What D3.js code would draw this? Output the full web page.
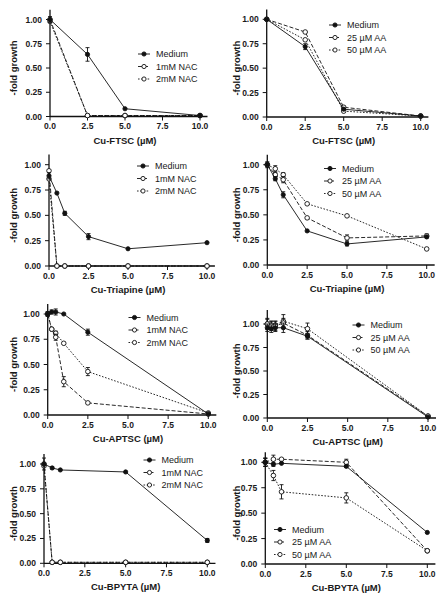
<!DOCTYPE html>
<html><head><meta charset="utf-8">
<script src="https://cdn.jsdelivr.net/npm/d3@7"></script>
<style>
body{margin:0;background:#fff}
svg{display:block}
text{font-family:"Liberation Sans",Arial,Helvetica,sans-serif;fill:#1a1a1a}
</style>
</head><body>
<svg id="c" width="447" height="601"></svg>
<script>
// ---------------- DATA ----------------
const xTicks = [0, 2.5, 5, 7.5, 10];
const yTicks = [0, 0.25, 0.5, 0.75, 1.0];
const nacLabels = ["Medium", "1mM NAC", "2mM NAC"];
const aaLabels = ["Medium", "25 µM AA", "50 µM AA"];

// Cu-FTSC
const xFtsc = [0, 2.5, 5, 10];
const ftscNacMedium = [1.0, 0.64, 0.08, 0.01];
const ftscNacMediumErr = [0.03, 0.07, 0, 0];
const ftscNac1 = [1.0, 0.01, 0.01, 0.01];
const ftscNac2 = [0.98, 0.01, 0.01, 0.01];
const ftscAaMedium = [1.0, 0.72, 0.08, 0.01];
const ftscAaMediumErr = [0, 0.03, 0, 0];
const ftscAa25 = [1.0, 0.87, 0.10, 0.01];
const ftscAa50 = [1.0, 0.79, 0.06, 0.01];

// Cu-Triapine
const xTria = [0, 0.5, 1, 2.5, 5, 10];
const triaNacMedium = [0.89, 0.72, 0.52, 0.29, 0.17, 0.23];
const triaNacMediumErr = [0.03, 0, 0.02, 0.03, 0, 0];
const triaNac1 = [0.94, 0, 0, 0, 0, 0];
const triaNac2 = [0.86, 0, 0, 0, 0, 0];
const triaAaMedium = [1.0, 0.86, 0.70, 0.34, 0.21, 0.28];
const triaAaMediumErr = [0, 0.02, 0.03, 0, 0.02, 0];
const triaAa25 = [1.0, 0.90, 0.85, 0.47, 0.27, 0.29];
const triaAa25Err = [0.02, 0.02, 0.03, 0, 0.03, 0.02];
const triaAa50 = [1.0, 0.96, 0.90, 0.61, 0.49, 0.16];
const triaAa50Err = [0.03, 0.03, 0.02, 0, 0, 0];

// Cu-APTSC
const xAptsc = [0, 0.25, 0.5, 1, 2.5, 10];
const apNacMedium = [1.0, 1.02, 1.02, 1.0, 0.82, 0.01];
const apNacMediumErr = [0.02, 0.02, 0.03, 0, 0.03, 0];
const apNac1 = [1.0, 0.85, 0.77, 0.33, 0.12, 0.01];
const apNac1Err = [0.02, 0, 0.03, 0.05, 0, 0];
const apNac2 = [1.0, 0.85, 0.81, 0.71, 0.43, 0.02];
const apNac2Err = [0.02, 0, 0.02, 0, 0.04, 0];
const apAaMedium = [0.96, 0.95, 0.96, 0.96, 0.87, 0.01];
const apAaMediumErr = [0.04, 0.04, 0.04, 0.05, 0.03, 0];
const apAa25 = [1.0, 0.98, 0.98, 1.01, 0.88, 0.02];
const apAa25Err = [0.06, 0.05, 0.05, 0.05, 0.04, 0];
const apAa50 = [1.0, 0.99, 0.99, 1.03, 0.95, 0.02];
const apAa50Err = [0.05, 0.04, 0.04, 0.07, 0.06, 0];

// Cu-BPYTA
const xBpyta = [0, 0.5, 1, 5, 10];
const bpNacMedium = [1.0, 0.96, 0.94, 0.92, 0.23];
const bpNacMediumErr = [0.06, 0.01, 0, 0, 0.02];
const bpNac1 = [1.0, 0.01, 0.01, 0.01, 0.01];
const bpNac2 = [0.98, 0.01, 0.01, 0.01, 0.01];
const bpAaMedium = [1.0, 0.98, 0.99, 0.96, 0.31];
const bpAaMediumErr = [0.04, 0.02, 0, 0.01, 0];
const bpAa25 = [1.0, 1.03, 1.03, 1.0, 0.13];
const bpAa25Err = [0.04, 0.04, 0, 0.03, 0];
const bpAa50 = [1.0, 0.87, 0.71, 0.65, 0.13];
const bpAa50Err = [0.04, 0.05, 0.07, 0.05, 0];

// ---------------- DRAWING ----------------
const svg = d3.select("#c");
const styles = [
  {dash: null, filled: true},
  {dash: "4,2", filled: false},
  {dash: "1.6,1.6", filled: false}
];

function mk(x, ys, errs) {
  return x.map((v, i) => ({x: v, y: ys[i], e: errs ? errs[i] : 0}));
}

function drawPanel(p) {
  const g = svg.append("g");
  const x = d3.scaleLinear().domain([0, 10]).range([p.x0, p.x10]);
  const y = d3.scaleLinear().domain([0, 1]).range([p.y0, p.y1]);
  const xEnd = x(10.5), yTop = y(p.yTop || 1.1);

  // axes lines
  g.append("line").attr("x1", p.x0).attr("x2", xEnd).attr("y1", p.y0).attr("y2", p.y0)
    .attr("stroke", "#111").attr("stroke-width", 1.3);
  g.append("line").attr("x1", p.x0).attr("x2", p.x0).attr("y1", p.y0).attr("y2", yTop)
    .attr("stroke", "#111").attr("stroke-width", 1.3);

  // ticks
  xTicks.forEach(t => {
    g.append("line").attr("x1", x(t)).attr("x2", x(t)).attr("y1", p.y0).attr("y2", p.y0 + 4)
      .attr("stroke", "#111").attr("stroke-width", 1);
    g.append("text").attr("x", x(t)).attr("y", p.y0 + 12.5).attr("text-anchor", "middle")
      .attr("font-size", 8.5).attr("font-weight", "bold").text(t.toFixed(1));
  });
  yTicks.forEach(t => {
    g.append("line").attr("x1", p.x0 - 4).attr("x2", p.x0).attr("y1", y(t)).attr("y2", y(t))
      .attr("stroke", "#111").attr("stroke-width", 1);
    g.append("text").attr("x", p.x0 - 8).attr("y", y(t) + 3).attr("text-anchor", "end")
      .attr("font-size", 8.5).attr("font-weight", "bold").text(t.toFixed(2));
  });

  // titles
  g.append("text").attr("x", (x(0) + x(10)) / 2).attr("y", p.y0 + 27).attr("text-anchor", "middle")
    .attr("font-size", 9.5).attr("font-weight", "bold").text(p.xTitle);
  g.append("text").attr("transform", `translate(${p.yTitleX},${(y(0) + y(1)) / 2}) rotate(-90)`)
    .attr("text-anchor", "middle").attr("font-size", 9.5).attr("font-weight", "bold").text("-fold growth");

  const line = d3.line().x(d => x(d.x)).y(d => y(d.y));

  // series (draw in reverse so Medium on top)
  p.series.slice().reverse().forEach((s, ri) => {
    const st = styles[p.series.length - 1 - ri];
    g.append("path").datum(s).attr("d", line).attr("fill", "none")
      .attr("stroke", "#111").attr("stroke-width", 0.9)
      .attr("stroke-dasharray", st.dash);
    s.filter(d => d.e > 0).forEach(d => {
      g.append("line").attr("x1", x(d.x)).attr("x2", x(d.x)).attr("y1", y(d.y - d.e)).attr("y2", y(d.y + d.e))
        .attr("stroke", "#111").attr("stroke-width", 0.9);
      [d.y - d.e, d.y + d.e].forEach(v => g.append("line").attr("x1", x(d.x) - 2).attr("x2", x(d.x) + 2)
        .attr("y1", y(v)).attr("y2", y(v)).attr("stroke", "#111").attr("stroke-width", 0.9));
    });
    g.selectAll(null).data(s).enter().append("circle")
      .attr("cx", d => x(d.x)).attr("cy", d => y(d.y))
      .attr("r", st.filled ? 2.1 : 2.3)
      .attr("fill", st.filled ? "#111" : "#fff").attr("stroke", "#111").attr("stroke-width", 0.9);
  });

  // legend
  p.labels.forEach((lab, i) => {
    const st = styles[i];
    const ly = p.legY + i * 12.5;
    g.append("line").attr("x1", p.legX).attr("x2", p.legX + 12).attr("y1", ly).attr("y2", ly)
      .attr("stroke", "#111").attr("stroke-width", 0.9).attr("stroke-dasharray", st.dash);
    g.append("circle").attr("cx", p.legX + 6).attr("cy", ly).attr("r", 2.1)
      .attr("fill", st.filled ? "#111" : "#fff").attr("stroke", "#111").attr("stroke-width", 0.9);
    g.append("text").attr("x", p.legX + 18).attr("y", ly + 3.2).attr("font-size", 9).text(lab);
  });
}

const panels = [
  {x0: 50, x10: 200, y0: 116.5, y1: 19.5, yTitleX: 17, xTitle: "Cu-FTSC (µM)", labels: nacLabels, legX: 138, legY: 54,
   series: [mk(xFtsc, ftscNacMedium, ftscNacMediumErr), mk(xFtsc, ftscNac1), mk(xFtsc, ftscNac2)]},
  {x0: 266.7, x10: 420.7, y0: 117, y1: 19.3, yTitleX: 240, xTitle: "Cu-FTSC (µM)", labels: aaLabels, legX: 329, legY: 25,
   series: [mk(xFtsc, ftscAaMedium, ftscAaMediumErr), mk(xFtsc, ftscAa25), mk(xFtsc, ftscAa50)]},
  {x0: 49, x10: 207, y0: 266, y1: 164.7, yTitleX: 17, xTitle: "Cu-Triapine (µM)", labels: nacLabels, legX: 137, legY: 166,
   series: [mk(xTria, triaNacMedium, triaNacMediumErr), mk(xTria, triaNac1), mk(xTria, triaNac2)]},
  {x0: 267.3, x10: 426.7, y0: 265, y1: 164.7, yTitleX: 240, xTitle: "Cu-Triapine (µM)", labels: aaLabels, legX: 324, legY: 168.5,
   series: [mk(xTria, triaAaMedium, triaAaMediumErr), mk(xTria, triaAa25, triaAa25Err), mk(xTria, triaAa50, triaAa50Err)]},
  {x0: 47.7, x10: 208.3, y0: 415, y1: 314, yTitleX: 17, xTitle: "Cu-APTSC (µM)", labels: nacLabels, legX: 128.5, legY: 317.5,
   series: [mk(xAptsc, apNacMedium, apNacMediumErr), mk(xAptsc, apNac1, apNac1Err), mk(xAptsc, apNac2, apNac2Err)]},
  {x0: 267.3, x10: 428, y0: 418, y1: 324, yTop: 1.15, yTitleX: 240, xTitle: "Cu-APTSC (µM)", labels: aaLabels, legX: 352.5, legY: 325,
   series: [mk(xAptsc, apAaMedium, apAaMediumErr), mk(xAptsc, apAa25, apAa25Err), mk(xAptsc, apAa50, apAa50Err)]},
  {x0: 44, x10: 207.3, y0: 563.3, y1: 464, yTitleX: 17, xTitle: "Cu-BPYTA (µM)", labels: nacLabels, legX: 143.5, legY: 460,
   series: [mk(xBpyta, bpNacMedium, bpNacMediumErr), mk(xBpyta, bpNac1), mk(xBpyta, bpNac2)]},
  {x0: 265.3, x10: 427.3, y0: 564, y1: 462.3, yTitleX: 240, xTitle: "Cu-BPYTA (µM)", labels: aaLabels, legX: 274, legY: 529.5,
   series: [mk(xBpyta, bpAaMedium, bpAaMediumErr), mk(xBpyta, bpAa25, bpAa25Err), mk(xBpyta, bpAa50, bpAa50Err)]}
];
panels.forEach(drawPanel);
</script>
</body></html>
